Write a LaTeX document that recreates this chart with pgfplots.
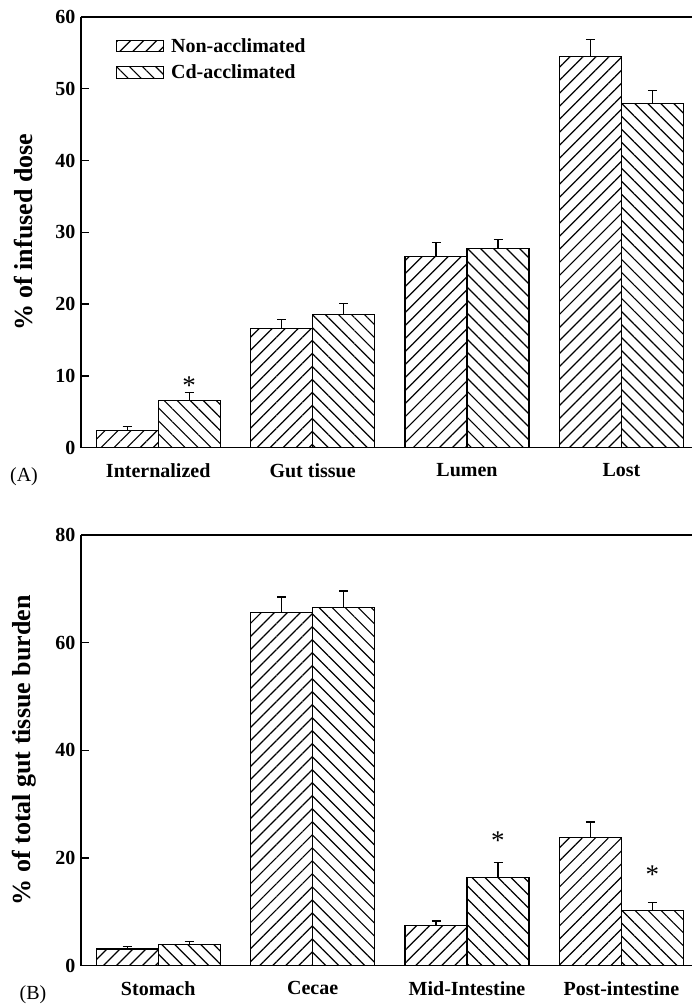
\documentclass[border=0pt]{standalone}
\usepackage{fontspec}
\setmainfont{Liberation Serif}
\usepackage{pgfplots}
\pgfplotsset{compat=1.18}
\usetikzlibrary{patterns.meta}
\newcommand{\tf}{\fontsize{20}{22}\selectfont}
\newcommand{\starf}{\fontsize{27}{28}\selectfont}
\newcommand{\lf}{\fontsize{26}{28}\selectfont\bfseries}
\pgfplotsset{
  nonacc/.style={draw=black, line width=1.2pt, pattern={Lines[angle=45,distance=9.2pt,line width=1.2pt]}},
  cdacc/.style={draw=black, line width=1.2pt, pattern={Lines[angle=-45,distance=9.2pt,line width=1.2pt]}},
  mylegend/.style={legend image code/.code={\draw[##1] (0pt,-5.7pt) rectangle (47pt,5.7pt);}},
  myerr/.style={error bars/.cd, y dir=plus, y explicit,
     error bar style={line width=1.2pt, solid},
     error mark options={rotate=90, mark size=4.5pt, line width=1.2pt}},
  base/.style={
    scale only axis, width=611pt, height=430.7pt,
    ybar=0pt, bar width=62pt,
    xmin=-0.5, xmax=3.457, ymin=0,
    axis x line=box, axis y line=left,
    axis line style={-, line width=1.6pt},
    tick align=inside, major tick length=8pt,
    y tick style={line width=1.4pt, black},
    x tick style={draw=none},
    xtick={0,1,2,3},
    /pgf/number format/assume math mode=true,
    yticklabel style={font=\tf\bfseries, xshift=-2pt},
    xticklabel style={font=\tf\bfseries, yshift=-12pt},
  },
}
\begin{document}
\begin{tikzpicture}
% Panel A
\begin{axis}[base, at={(81pt,556.3pt)}, anchor=south west,
  ymax=60, ytick={0,10,20,30,40,50,60},
  xticklabels={Internalized,Gut tissue,Lumen,Lost},
  ylabel={\% of infused dose},
  ylabel style={font=\lf, at={(axis description cs:-0.0933,0.5)}, anchor=center},
  legend style={draw=none, fill=none, font=\tf\bfseries, at={(axis description cs:0.052,0.96)}, anchor=north west, row sep=7pt, column sep=5pt, legend cell align=left},
]
\addplot[nonacc, mylegend, myerr] coordinates {(0,2.35) +- (0,0.6) (1,16.6) +- (0,1.3) (2,26.6) +- (0,2.0) (3,54.5) +- (0,2.4)};
\addlegendentry{Non-acclimated}
\addplot[cdacc, mylegend, myerr] coordinates {(0,6.55) +- (0,1.1) (1,18.5) +- (0,1.6) (2,27.8) +- (0,1.2) (3,47.9) +- (0,1.9)};
\addlegendentry{Cd-acclimated}
\node[font=\starf] at (axis cs:0.2,8.6) {*};
\end{axis}
% Panel B
\begin{axis}[base, at={(81pt,38.3pt)}, anchor=south west,
  ymax=80, ytick={0,20,40,60,80},
  xticklabels={Stomach,Cecae,Mid-Intestine,Post-intestine},
  ylabel={\% of total gut tissue burden},
  ylabel style={font=\lf, at={(axis description cs:-0.0933,0.5)}, anchor=center},
]
\addplot[nonacc, myerr] coordinates {(0,3.1) +- (0,0.5) (1,65.6) +- (0,2.9) (2,7.5) +- (0,0.8) (3,23.8) +- (0,2.9)};
\addplot[cdacc, myerr] coordinates {(0,3.95) +- (0,0.5) (1,66.5) +- (0,3.1) (2,16.4) +- (0,2.7) (3,10.3) +- (0,1.4)};
\node[font=\starf] at (axis cs:2.2,23.2) {*};
\node[font=\starf] at (axis cs:3.2,17.0) {*};
\end{axis}
\node[font=\tf] at (24pt,527pt) {(A)};
\node[font=\tf] at (33pt,9pt) {(B)};
\pgfresetboundingbox
\path[use as bounding box] (0,0) rectangle (692pt,1004pt);
\end{tikzpicture}
\end{document}
